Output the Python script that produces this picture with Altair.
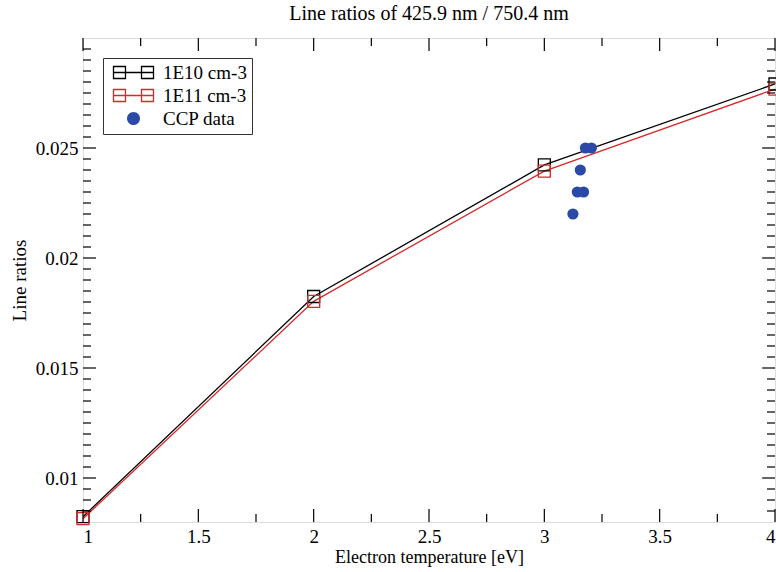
import altair as alt
import pandas as pd

# ---------------- data ----------------
temps = [1, 2, 3, 4]
ratio_1e10 = [0.00824, 0.01825, 0.02423, 0.02791]
ratio_1e11 = [0.00815, 0.01803, 0.02395, 0.02768]
ccp_temp = [3.124, 3.143, 3.170, 3.156, 3.178, 3.204]
ccp_ratio = [0.022, 0.023, 0.023, 0.024, 0.025, 0.025]

series_names = ["1E10 cm-3", "1E11 cm-3", "CCP data"]
series_colors = ["#000000", "#d42a2a", "#2b4aa8"]

x_major = [1, 1.5, 2, 2.5, 3, 3.5, 4]
x_minor = [1.25, 1.75, 2.25, 2.75, 3.25, 3.75]
y_labels = [0.01, 0.015, 0.02, 0.025]
y_major = [0.01, 0.015, 0.02, 0.025]
y_minor = [0.0085, 0.0090, 0.0095, 0.0105, 0.0110, 0.0115, 0.0120, 0.0125,
           0.0130, 0.0135, 0.0140, 0.0145, 0.0155, 0.0160, 0.0165, 0.0170,
           0.0175, 0.0180, 0.0185, 0.0190, 0.0195, 0.0205, 0.0210, 0.0215,
           0.0220, 0.0225, 0.0230, 0.0235, 0.0240, 0.0245, 0.0255, 0.0260,
           0.0265, 0.0270, 0.0275, 0.0280, 0.0285, 0.0290, 0.0295]

# ---------------- style ----------------
FONT = "Liberation Serif"
W, H = 692, 484
MAJOR, MINOR = 13, 8

model = pd.DataFrame({
    "T": temps * 2,
    "ratio": ratio_1e10 + ratio_1e11,
    "series": [series_names[0]] * len(temps) + [series_names[1]] * len(temps),
})
ccp = pd.DataFrame({"T": ccp_temp, "ratio": ccp_ratio})
# legend-only entries (kept outside the plotted domain, clipped away)
legend_df = pd.DataFrame({"T": [0.0, 0.0, 0.0], "ratio": [0.02, 0.02, 0.02],
                          "series": series_names})

xs = alt.Scale(domain=[1, 4], nice=False, zero=False)
ys = alt.Scale(domain=[0.008, 0.030], nice=False, zero=False)
cs = alt.Scale(domain=series_names, range=series_colors)

LINESQ = "M-2.857,0H2.857M-2.857,-0.857H-1.143V0.857H-2.857ZM1.143,-0.857H2.857V0.857H1.143Z"
DOT = "M-0.93,0A0.93,0.93,0,1,0,0.93,0A0.93,0.93,0,1,0,-0.93,0Z"


def make_legend():
    return alt.Legend(
        title=None, orient="none", legendX=20, legendY=20,
        strokeColor="#333333", fillColor="white", padding=5,
        labelFont=FONT, labelFontSize=19, labelColor="black",
        symbolSize=196, symbolOffset=16, labelOffset=20, rowPadding=3,
        symbolStrokeWidth=1.3, symbolOpacity=1,
    )


def xaxis():
    return alt.Axis(values=x_major, format="~g", ticks=False, domain=False, grid=False,
                    labelFont=FONT, labelFontSize=19, labelColor="black", labelPadding=5,
                    title="Electron temperature [eV]", titleFont=FONT, titleFontSize=18,
                    titleFontWeight="normal", titleColor="black", titlePadding=2)


def yaxis():
    return alt.Axis(values=y_labels, format="~g", ticks=False, domain=False, grid=False,
                    labelFont=FONT, labelFontSize=19, labelColor="black", labelPadding=5,
                    title="Line ratios", titleFont=FONT, titleFontSize=19,
                    titleFontWeight="normal", titleColor="black", titlePadding=6)


def X(field):
    return alt.X(field, scale=xs, axis=xaxis())


def Y(field):
    return alt.Y(field, scale=ys, axis=yaxis())


lines = alt.Chart(model).mark_line(strokeWidth=1.3).encode(
    x=X("T:Q"), y=Y("ratio:Q"),
    color=alt.Color("series:N", scale=cs, legend=None),
)
squares = alt.Chart(model).mark_point(shape="square", filled=False, size=144,
                                      strokeWidth=1.3, opacity=1).encode(
    x=X("T:Q"), y=Y("ratio:Q"),
    color=alt.Color("series:N", scale=cs, legend=None),
)
dots = alt.Chart(ccp).mark_circle(size=125, color="#2b4aa8", opacity=1).encode(
    x=X("T:Q"), y=Y("ratio:Q"),
)
legend_layer = alt.Chart(legend_df).mark_point(size=196, strokeWidth=1.3, opacity=1,
                                               clip=True).encode(
    x=X("T:Q"), y=Y("ratio:Q"),
    shape=alt.Shape("series:N", scale=alt.Scale(domain=series_names,
                                                range=[LINESQ, LINESQ, DOT]),
                    legend=make_legend()),
    stroke=alt.Stroke("series:N", scale=alt.Scale(domain=series_names,
                                                  range=["#000000", "#d42a2a", "transparent"]),
                      legend=make_legend()),
    fill=alt.Fill("series:N", scale=alt.Scale(domain=series_names,
                                              range=["transparent", "transparent", "#2b4aa8"]),
                  legend=make_legend()),
)


def xticks(vals, length):
    d = pd.DataFrame({"v": vals})
    bottom = alt.Chart(d).mark_rule(color="black", strokeWidth=1.2).encode(
        x=X("v:Q"), y=alt.value(H), y2=alt.value(H - length))
    top = alt.Chart(d).mark_rule(color="black", strokeWidth=1.2).encode(
        x=X("v:Q"), y=alt.value(0), y2=alt.value(length))
    return [bottom, top]


def yticks(vals, length):
    d = pd.DataFrame({"v": vals})
    left = alt.Chart(d).mark_rule(color="black", strokeWidth=1.2).encode(
        y=Y("v:Q"), x=alt.value(0), x2=alt.value(length))
    right = alt.Chart(d).mark_rule(color="black", strokeWidth=1.2).encode(
        y=Y("v:Q"), x=alt.value(W), x2=alt.value(W - length))
    return [left, right]


tick_layers = (xticks(x_major, MAJOR) + xticks(x_minor, MINOR)
               + yticks(y_major, MAJOR) + yticks(y_minor, MINOR))

chart = alt.layer(lines, squares, dots, legend_layer, *tick_layers).properties(
    width=W, height=H,
    title=alt.Title("Line ratios of 425.9 nm / 750.4 nm", font=FONT, fontSize=20,
                    fontWeight="normal", color="black", anchor="middle", offset=13),
    autosize=alt.AutoSizeParams(type="none"),
    padding={"left": 83, "top": 38, "right": 1, "bottom": 50},
).resolve_scale(color="independent").configure_view(
    stroke="black", strokeWidth=1.5
).configure_axis(
    labelFont=FONT, titleFont=FONT
).configure_legend(
    labelFont=FONT
).configure(background="white", font=FONT)

chart.save("out.html", embed_options={"renderer": "svg", "actions": False})
